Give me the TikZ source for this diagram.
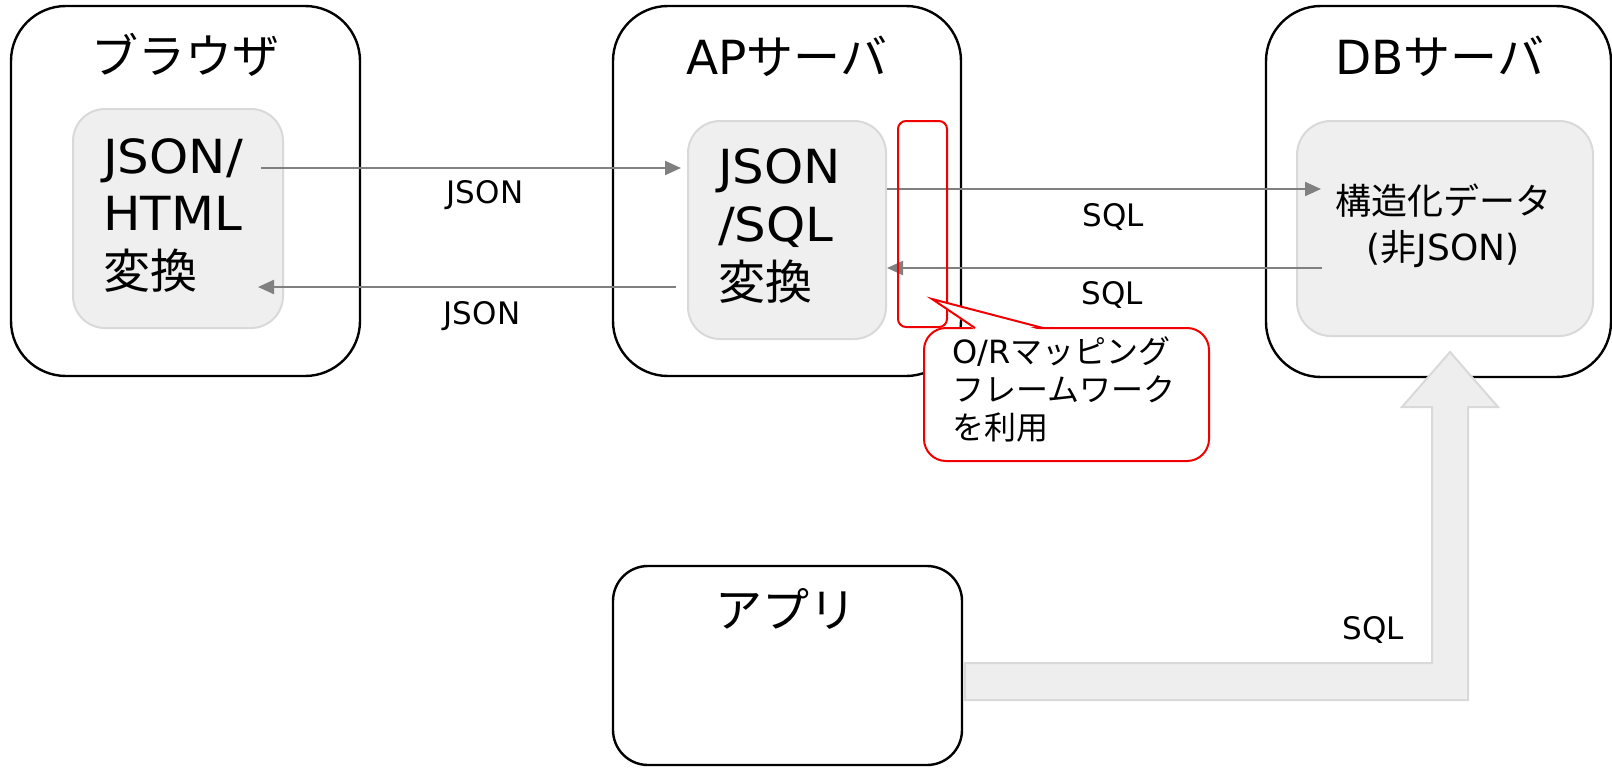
\documentclass[tikz,border=0pt]{standalone}
\usepackage{fontspec}
\setmainfont{DejaVu Sans}
\newfontfamily\jp{Noto Sans CJK JP}
\usetikzlibrary{arrows.meta}
\definecolor{boxfill}{HTML}{EFEFEF}
\definecolor{boxline}{HTML}{D9D9D9}
\definecolor{arrgray}{HTML}{808080}
\definecolor{calred}{HTML}{F00000}
\definecolor{blkfill}{HTML}{EEEEEE}
\newcommand\fsz[2]{\fontsize{#1}{#2}\selectfont}
\begin{document}
\begin{tikzpicture}[x=1pt,y=-1pt,
  outerbox/.style={draw=black, line width=2.4pt, fill=white, rounded corners=#1, inner sep=0pt},
  innerbox/.style={draw=boxline, line width=2pt, fill=boxfill, rounded corners=#1, inner sep=0pt},
  ttl/.style={font=\fsz{47}{57}, inner sep=0pt, anchor=center},
  big/.style={font=\fsz{47}{57}\addfontfeature{FakeStretch=1.06}, inner sep=0pt, anchor=base west},
  mid/.style={font=\fsz{36}{46}, inner sep=0pt, anchor=base},
  cal/.style={font=\fsz{32}{38}, inner sep=0pt, anchor=base west},
  lbl/.style={font=\fsz{31}{37}, inner sep=0pt, anchor=center},
  garr/.style={draw=arrgray, line width=2.2pt, -{Triangle[length=16pt,width=14pt]}},
  blk/.style={draw=boxline, line width=2pt, fill=blkfill},
  redbox/.style={draw=calred, line width=2pt, rounded corners=8pt, inner sep=0pt}
]
\useasboundingbox (0,0) rectangle (1612,768);

% outer boxes
\node[outerbox=55pt, minimum width=349pt, minimum height=370pt] (brw) at (185.5,191) {};
\node[outerbox=55pt, minimum width=348pt, minimum height=370pt] (ap) at (787,191) {};
\node[outerbox=55pt, minimum width=345pt, minimum height=371pt] (db) at (1438.5,191.5) {};

% titles
\node[ttl] (brwT) at (185,55) {\jp ブラウザ};
\node[ttl] (apT) at (787,56) {AP{\jp サーバ}};
\node[ttl] (dbT) at (1440,56) {DB{\jp サーバ}};

% inner boxes
\node[innerbox=32pt, minimum width=210pt, minimum height=219pt] (bin) at (178,218.5) {};
\node[innerbox=32pt, minimum width=198pt, minimum height=218pt] (apin) at (787,230) {};
\node[innerbox=34pt, minimum width=296pt, minimum height=215pt] (dbin) at (1445,228.5) {};

% inner texts
\node[big] (b1) at (103,173) {JSON/};
\node[big] (b2) at (103,230) {HTML};
\node[big] (b3) at (103,288) {\jp 変換};
\node[big] (a1) at (718,183) {JSON};
\node[big] (a2) at (718,241) {/SQL};
\node[big] (a3) at (718,299) {\jp 変換};
\node[mid] (d1) at (1443,214) {\jp 構造化データ};
\node[mid] (d2) at (1443,260) {({\jp 非}JSON)};

% connector levels
\coordinate (yJ1) at (0,168);
\coordinate (yJ2) at (0,287);
\coordinate (yS1) at (0,189);
\coordinate (yS2) at (0,268);

\draw[garr] ([xshift=-23pt]bin.east |- yJ1) -- ([xshift=-6pt]apin.west |- yJ1);
\draw[garr] ([xshift=-11pt]apin.west |- yJ2) -- ([xshift=-26pt]bin.east |- yJ2);
\draw[garr] (apin.east |- yS1) -- ([xshift=25pt]dbin.west |- yS1);
\draw[garr] ([xshift=26pt]dbin.west |- yS2) -- (apin.east |- yS2);

\node[lbl] (lj1) at (485,195) {JSON};
\node[lbl] (lj2) at (482,316) {JSON};
\node[lbl] (ls1) at (1113,217) {SQL};
\node[lbl] (ls2) at (1112,295) {SQL};

% O/R mapping highlight
\node[redbox, minimum width=49pt, minimum height=206pt] (orm) at (922.5,224) {};

% callout
\node[draw=calred, line width=2pt, fill=white, rounded corners=22pt, inner sep=0pt,
      minimum width=285pt, minimum height=133pt] (cb) at (1066.5,394.5) {};
\fill[white] (976,330.5) -- (932,299) -- (1042,330.5) -- cycle;
\draw[calred, line width=2pt, line join=miter] (975,328) -- (932,299) -- (1043,328);
\node[cal] (c1) at (952,363) {O/R{\jp マッピング}};
\node[cal] (c2) at (952,401) {\jp フレームワーク};
\node[cal] (c3) at (952,439) {\jp を利用};

% application box
\node[outerbox=35pt, minimum width=349pt, minimum height=199pt] (app) at (787.5,665.5) {};
\node[ttl] (appT) at (786,609) {\jp アプリ};

% block arrow from app to DB
\coordinate (yB1) at (0,663);
\coordinate (yB2) at (0,700);
\draw[blk] ([xshift=2pt]app.east |- yB1) -- (1432,663) -- (1432,407) -- (1402,407)
  -- (1450,352) -- (1498,407) -- (1468,407) -- (1468,700) -- ([xshift=2pt]app.east |- yB2) -- cycle;
\node[lbl] (ls3) at (1373,630) {SQL};
\end{tikzpicture}
\end{document}
